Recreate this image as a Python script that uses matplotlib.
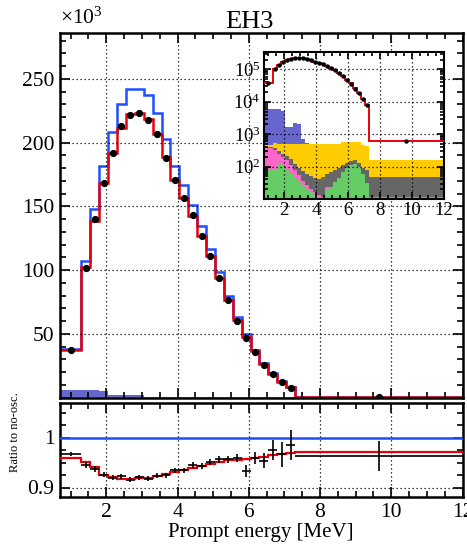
import numpy as np
import matplotlib
matplotlib.use("Agg")
import matplotlib.pyplot as plt
from matplotlib.ticker import MultipleLocator, FuncFormatter, LogLocator, NullFormatter

plt.rcParams["font.family"] = ["Liberation Serif", "DejaVu Serif"]
plt.rcParams["mathtext.fontset"] = "custom"
plt.rcParams["mathtext.rm"] = "Liberation Serif"
plt.rcParams["mathtext.it"] = "Liberation Serif:italic"

# Prompt-energy binning [MeV]
bin_edges = np.array([0.7] + list(np.arange(1.3, 7.3001, 0.25)) + [12.0])
bin_centers = 0.5 * (bin_edges[:-1] + bin_edges[1:])

# Spectra, entries x 10^3 per bin
no_osc = [37.8, 107.4, 148.0, 181.7, 208.4, 230.6, 241.9, 242.4, 237.4, 223.6,
          202.9, 181.7, 166.8, 151.3, 134.6, 116.8, 98.5, 79.9, 63.0, 50.1,
          37.5, 26.8, 19.0, 12.8, 8.3, 0.62]
best_fit = [37.0, 102.2, 138.8, 168.0, 191.9, 211.8, 222.5, 223.6, 218.8, 206.8,
            189.0, 170.7, 156.7, 142.5, 126.8, 110.8, 93.5, 76.3, 60.8, 47.7,
            36.7, 26.0, 18.4, 12.4, 8.0, 0.60]
data = [37.0, 101.6, 140.0, 168.1, 192.0, 213.3, 221.8, 223.1, 218.1, 206.6,
        187.9, 170.5, 156.6, 143.5, 126.8, 111.2, 94.0, 76.3, 60.3, 46.7,
        36.0, 25.3, 18.2, 12.2, 7.7, 0.60]

# Background components, entries per bin (stacked bottom to top)
bkg_green = [79, 85, 117, 105, 81, 60, 44, 33, 26, 19, 16, 13, 11.5, 8, 21, 23,
             33, 44, 68, 90, 110, 120, 95, 60, 30, 11]
bkg_pink = [293, 231, 134, 90, 74, 50, 32, 21, 11, 9, 5, 3, 2, 3.5, 2, 1, 1, 1,
            1, 0.5, 0.5, 0.5, 0.5, 0.5, 0.5, 0.2]
bkg_gray = [35, 64, 49, 55, 54, 56, 47, 35, 34, 32, 30, 29, 28, 35, 37, 45, 47,
            48, 46, 42, 40, 40, 35, 32, 46, 37]
bkg_yellow = [72, 157, 190, 240, 281, 324, 367, 401, 419, 430, 439, 455, 458,
              454, 440, 431, 419, 407, 460, 443, 425, 415, 445, 365, 351, 107]
bkg_purple = [5690, 5630, 5400, 4760, 1170, 1170, 1750, 1510, 220, 35, 10, 5, 3,
              2, 1.5, 1.5, 1.5, 1.5, 1.5, 1, 1, 1, 1, 1, 1, 0.5]

# Ratios to the no-oscillation prediction
fit_ratio = [0.960, 0.952, 0.941, 0.925, 0.921, 0.917, 0.917, 0.919, 0.920, 0.923,
             0.927, 0.931, 0.935, 0.939, 0.943, 0.947, 0.951, 0.955, 0.955, 0.957,
             0.960, 0.962, 0.965, 0.967, 0.970, 0.971]
data_ratio = [0.967, 0.945, 0.938, 0.926, 0.920, 0.923, 0.916, 0.921, 0.918, 0.924,
              0.925, 0.935, 0.935, 0.945, 0.943, 0.951, 0.957, 0.957, 0.960, 0.933,
              0.960, 0.954, 0.975, 0.967, 0.985, 0.964]
data_ratio_err = [0.004, 0.006, 0.006, 0.005, 0.005, 0.005, 0.005, 0.005, 0.005,
                  0.005, 0.005, 0.005, 0.005, 0.006, 0.006, 0.006, 0.007, 0.007,
                  0.008, 0.012, 0.012, 0.015, 0.020, 0.025, 0.030, 0.030]

BLUE = "#1f4fff"
RED = "#e8000b"
C_GREEN = "#66cc66"
C_PINK = "#ff66cc"
C_GRAY = "#666666"
C_YELLOW = "#ffcc00"
C_PURPLE = "#6666cc"
DOT = (0, (1, 2.2))

W, H = 467, 545
fig = plt.figure(figsize=(W / 100, H / 100), dpi=100)


def fx(px):
    return px / W


def fy(py):
    return 1 - py / H


ax = fig.add_axes([fx(60), fy(397.5), fx(462.5) - fx(60), fy(33) - fy(397.5)])
axr = fig.add_axes([fx(60), fy(497), fx(462.5) - fx(60), fy(403) - fy(497)])
axi = fig.add_axes([fx(263.5), fy(199), fx(444) - fx(263.5), fy(51.7) - fy(199)])


def style_axis(a, lab=15.5):
    a.tick_params(which="both", direction="in", top=True, right=True,
                  labelsize=lab, width=1.2, pad=4)
    a.tick_params(which="major", length=7)
    a.tick_params(which="minor", length=4)
    for s in a.spines.values():
        s.set_linewidth(1.8)


# ---- main spectrum panel ----
bg = [bkg_green, bkg_pink, bkg_gray, bkg_yellow, bkg_purple]
cols = [C_GREEN, C_PINK, C_GRAY, C_YELLOW, C_PURPLE]
cum = np.cumsum(np.array(bg, dtype=float), axis=0)
lower = np.zeros(len(bin_centers))
for top, c in zip(cum, cols):
    ax.stairs(top / 1e3, bin_edges, baseline=lower / 1e3, fill=True, color=c, lw=0)
    lower = top

ax.stairs(no_osc, bin_edges, baseline=None, color=BLUE, lw=1.8)
ax.stairs(best_fit, bin_edges, baseline=None, color=RED, lw=1.8)
ax.plot(bin_centers, data, "o", color="k", ms=4.2, zorder=5)

ax.set_xlim(0.7, 12)
ax.set_ylim(0, 286)
ax.xaxis.set_major_locator(MultipleLocator(2))
ax.xaxis.set_minor_locator(MultipleLocator(0.5))
ax.yaxis.set_major_locator(MultipleLocator(50))
ax.yaxis.set_minor_locator(MultipleLocator(10))
ax.yaxis.set_major_formatter(FuncFormatter(lambda v, p: "" if v == 0 else "%d" % v))
ax.tick_params(labelbottom=False)
style_axis(ax)
ax.grid(True, which="major", color="k", lw=0.9, ls=DOT)
ax.text(0.0, 1.012, r"$\times10^{3}$", transform=ax.transAxes, fontsize=15.5,
        ha="left", va="bottom")
fig.text(fx(1.5), fy(215), "Entries / 0.25 MeV", fontsize=15, rotation=90,
         ha="right", va="center")
fig.text(fx(249), fy(22), "EH3", fontsize=19, ha="center", va="center")

# ---- inset: log-scale spectrum with backgrounds ----
lower = np.full(len(bin_centers), 1e-3)
for top, c in zip(cum, cols):
    axi.stairs(top, bin_edges, baseline=lower, fill=True, color=c, lw=0)
    lower = top
fit_counts = np.array(best_fit) * 1e3
axi.stairs(fit_counts, bin_edges, baseline=None, color=RED, lw=1.4, zorder=4)
axi.plot(bin_centers, np.array(data) * 1e3, "o", color="k", ms=2.2, zorder=5)
axi.set_yscale("log")
axi.set_xlim(0.7, 12)
axi.xaxis.set_major_locator(MultipleLocator(2))
axi.xaxis.set_minor_locator(MultipleLocator(0.5))
axi.yaxis.set_minor_locator(LogLocator(base=10, subs=np.arange(2, 10), numticks=20))
axi.yaxis.set_minor_formatter(NullFormatter())
axi.set_yticks([1e2, 1e3, 1e4, 1e5])
axi.set_ylim(10, 3.5e5)
style_axis(axi, lab=13.5)
axi.tick_params(which="major", length=5, pad=2)
axi.tick_params(which="minor", length=3)
for s in axi.spines.values():
    s.set_linewidth(1.5)
axi.grid(True, which="major", color="k", lw=0.9, ls=DOT)
axi.set_axisbelow(False)
axi.set_facecolor("white")

# ---- ratio panel ----
axr.axhline(1.0, color=BLUE, lw=1.8, zorder=3)
axr.stairs(fit_ratio, bin_edges, baseline=None, color=RED, lw=1.6, zorder=4)
xerr = 0.5 * np.diff(bin_edges)
axr.errorbar(bin_centers, data_ratio, yerr=data_ratio_err, xerr=xerr, fmt="none",
             ecolor="k", elinewidth=1.2, zorder=5)
axr.set_xlim(0.7, 12)
axr.set_ylim(0.881, 1.069)
axr.xaxis.set_major_locator(MultipleLocator(2))
axr.xaxis.set_minor_locator(MultipleLocator(0.5))
axr.yaxis.set_major_locator(MultipleLocator(0.1))
axr.yaxis.set_minor_locator(MultipleLocator(0.025))
axr.yaxis.set_major_formatter(FuncFormatter(lambda v, p: "%g" % round(v, 3)))
style_axis(axr)
axr.grid(True, which="major", color="k", lw=0.9, ls=DOT)
axr.set_xlabel("Prompt energy [MeV]", fontsize=15, labelpad=1)
fig.text(fx(21), fy(392), "Ratio to no-osc.", fontsize=9, rotation=90,
         ha="right", va="top")

fig.savefig("out.png", dpi=100)
